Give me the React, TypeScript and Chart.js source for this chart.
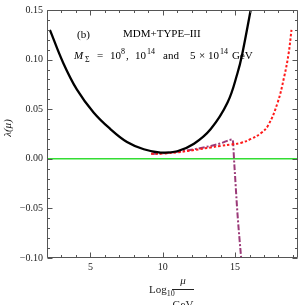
import React, { useEffect, useRef } from "react";
import { Chart, registerables } from "chart.js";

Chart.register(...registerables);

const SERIF = '"Liberation Serif", "Times New Roman", serif';

// Axis ranges and ticks
const X_MIN = 2;
const X_MAX = 19.35;
const Y_MIN = -0.1;
const Y_MAX = 0.15;
const xMajorTicks = [5, 10, 15];
const yMajorTicks = [-0.1, -0.05, 0, 0.05, 0.1, 0.15];

// M = 10^8 GeV (black solid)
const blackX = [2.2, 3.13, 4.06, 5.22, 6.38, 7.53, 8.69, 9.85, 11.0, 12.16, 13.32, 14.48, 15.17, 15.5, 16.08];
const blackY = [0.13, 0.0964, 0.07, 0.0467, 0.03, 0.0169, 0.0096, 0.0063, 0.0076, 0.0152, 0.03, 0.0567, 0.0865, 0.106, 0.15];

// M = 10^14 GeV (red dotted)
const redX = [9.2, 10.0, 11.0, 12.16, 13.32, 14.0, 14.75, 15.4, 16.1, 16.8, 17.3, 17.95, 18.4, 18.7, 18.9];
const redY = [0.005, 0.0053, 0.0065, 0.0088, 0.0115, 0.013, 0.0145, 0.016, 0.02, 0.026, 0.034, 0.057, 0.083, 0.106, 0.13];

// M = 5x10^14 GeV (purple dash-dot)
const purpleX = [9.2, 10.0, 11.0, 12.16, 13.32, 14.0, 14.83, 14.95, 15.17, 15.45];
const purpleY = [0.005, 0.0055, 0.007, 0.0096, 0.013, 0.0155, 0.0195, -0.006, -0.056, -0.105];

// zero reference line
const greenX = [X_MIN, X_MAX];
const greenY = [0, 0];

const toPts = (xs: number[], ys: number[]) => xs.map((x, i) => ({ x, y: ys[i] }));

type Piece = { x: number; t: string; size: number; dy?: number; italic?: boolean };

const legendPieces: Piece[] = [
  { x: 74, t: "M", size: 11, italic: true },
  { x: 85, t: "Σ", size: 8, dy: 3 },
  { x: 97, t: "=", size: 11 },
  { x: 110, t: "10", size: 11 },
  { x: 121, t: "8", size: 8, dy: -5 },
  { x: 126, t: ",", size: 11 },
  { x: 135, t: "10", size: 11 },
  { x: 147, t: "14", size: 8, dy: -5 },
  { x: 163, t: "and", size: 11 },
  { x: 190, t: "5", size: 11 },
  { x: 199, t: "×", size: 11 },
  { x: 208, t: "10", size: 11 },
  { x: 220, t: "14", size: 8, dy: -5 },
  { x: 232, t: "GeV", size: 11 },
];

const framePlugin = {
  id: "frameTicks",
  afterDraw(chart: any) {
    const { ctx, chartArea: a, scales } = chart;
    const xs = scales.x;
    const ys = scales.y;
    ctx.save();
    ctx.strokeStyle = "#555";
    ctx.lineWidth = 1;
    const L = Math.round(a.left) + 0.5;
    const R = Math.round(a.right) - 0.5;
    const T = Math.round(a.top) + 0.5;
    const B = Math.round(a.bottom) - 0.5;
    ctx.beginPath();
    ctx.rect(L, T, R - L, B - T);
    ctx.stroke();
    ctx.beginPath();
    for (let v = Math.ceil(X_MIN); v <= X_MAX; v++) {
      const major = xMajorTicks.includes(v);
      const len = major ? 5 : 2.5;
      const px = Math.round(xs.getPixelForValue(v)) + 0.5;
      ctx.moveTo(px, B);
      ctx.lineTo(px, B - len);
      ctx.moveTo(px, T);
      ctx.lineTo(px, T + len);
    }
    for (let k = -10; k <= 15; k++) {
      const v = k / 100;
      const major = k % 5 === 0;
      const len = major ? 5 : 2.5;
      const py = Math.round(ys.getPixelForValue(v)) + 0.5;
      ctx.moveTo(L, py);
      ctx.lineTo(L + len, py);
      ctx.moveTo(R, py);
      ctx.lineTo(R - len, py);
    }
    ctx.stroke();

    ctx.fillStyle = "#000";
    ctx.textBaseline = "alphabetic";
    ctx.textAlign = "left";
    ctx.font = `11px ${SERIF}`;
    ctx.fillText("(b)", 77, 38);
    ctx.fillText("MDM+TYPE–III", 123, 37);
    for (const p of legendPieces) {
      ctx.font = `${p.italic ? "italic " : ""}${p.size}px ${SERIF}`;
      ctx.fillText(p.t, p.x, 59 + (p.dy || 0));
    }

    ctx.fillStyle = "#222";
    ctx.font = `11px ${SERIF}`;
    ctx.fillText("Log", 149, 293);
    const lw = ctx.measureText("Log").width;
    ctx.font = `8px ${SERIF}`;
    ctx.fillText("10", 149 + lw, 296);
    ctx.textAlign = "center";
    ctx.font = `italic 11px ${SERIF}`;
    ctx.fillText("μ", 183, 284);
    ctx.font = `11px ${SERIF}`;
    ctx.fillText("GeV", 183, 308);
    ctx.strokeStyle = "#222";
    ctx.beginPath();
    ctx.moveTo(172, 289.5);
    ctx.lineTo(194, 289.5);
    ctx.stroke();

    ctx.save();
    ctx.translate(8, 128);
    ctx.rotate(-Math.PI / 2);
    ctx.textAlign = "center";
    ctx.textBaseline = "middle";
    ctx.font = `italic 11px ${SERIF}`;
    ctx.fillText("λ(μ)", 0, 0);
    ctx.restore();

    ctx.restore();
  },
};

export default function App() {
  const ref = useRef<HTMLCanvasElement | null>(null);
  useEffect(() => {
    if (!ref.current) return;
    const chart = new Chart(ref.current, {
      type: "line",
      data: {
        datasets: [
          {
            data: toPts(blackX, blackY),
            borderColor: "#000",
            borderWidth: 2.3,
            pointRadius: 0,
            tension: 0.4,
          },
          {
            data: toPts(redX, redY),
            borderColor: "#ff1a1a",
            borderWidth: 2,
            borderDash: [2.5, 2],
            pointRadius: 0,
            tension: 0.4,
          },
          {
            data: toPts(purpleX, purpleY),
            borderColor: "#9b3a78",
            borderWidth: 2,
            borderDash: [6, 2, 2, 2],
            pointRadius: 0,
            cubicInterpolationMode: "monotone",
          },
          {
            data: toPts(greenX, greenY),
            borderColor: "#33dd33",
            borderWidth: 1.5,
            pointRadius: 0,
          },
        ],
      },
      options: {
        animation: false,
        responsive: false,
        maintainAspectRatio: false,
        layout: { padding: { top: 5, right: 2, left: 0, bottom: 0 } },
        plugins: { legend: { display: false }, tooltip: { enabled: false } },
        scales: {
          x: {
            type: "linear",
            min: X_MIN,
            max: X_MAX,
            grid: { display: false, drawTicks: false },
            border: { display: false },
            afterBuildTicks: (s: any) => {
              s.ticks = xMajorTicks.map((v) => ({ value: v }));
            },
            afterFit: (s: any) => {
              s.height = 47;
            },
            ticks: {
              padding: 3,
              maxRotation: 0,
              autoSkip: false,
              color: "#222",
              font: { family: SERIF, size: 10 },
              callback: (v: any) => String(v),
            },
          },
          y: {
            type: "linear",
            min: Y_MIN,
            max: Y_MAX,
            grid: { display: false, drawTicks: false },
            border: { display: false },
            afterBuildTicks: (s: any) => {
              s.ticks = yMajorTicks.map((v) => ({ value: v }));
            },
            afterFit: (s: any) => {
              s.width = 47;
            },
            ticks: {
              padding: 4,
              autoSkip: false,
              color: "#222",
              font: { family: SERIF, size: 10 },
              callback: (v: any) => {
                const n = Number(v);
                const s = Math.abs(n).toFixed(2);
                return n < -1e-9 ? "−" + s : s;
              },
            },
          },
        },
      },
      plugins: [framePlugin],
    } as any);
    return () => chart.destroy();
  }, []);
  return (
    <div style={{ position: "absolute", left: 0, top: 0, width: 300, height: 305 }}>
      <canvas ref={ref} width={300} height={305} />
    </div>
  );
}
